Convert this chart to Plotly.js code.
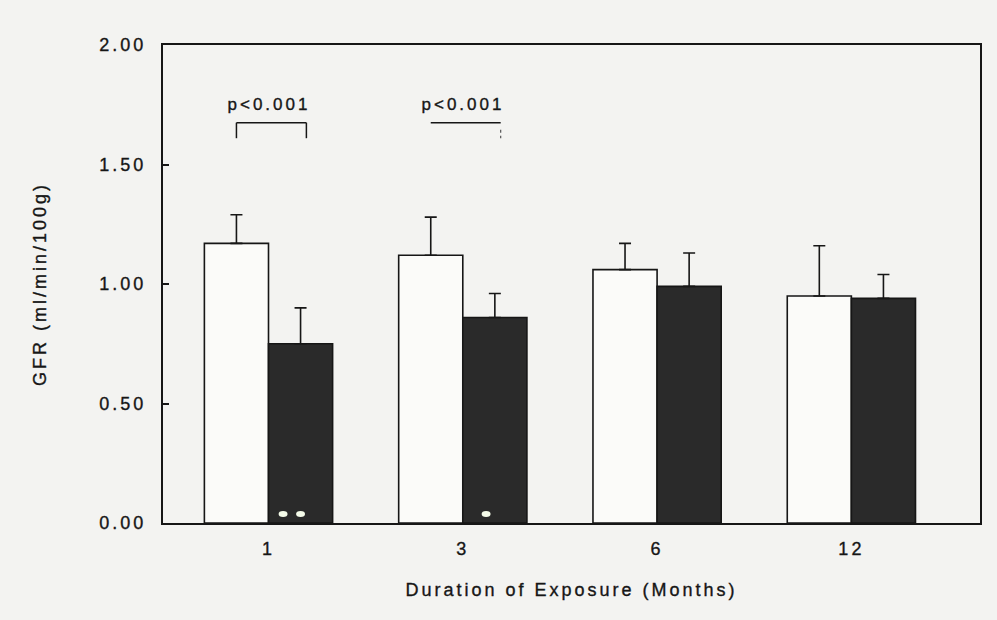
<!DOCTYPE html>
<html>
<head>
<meta charset="utf-8">
<script src="https://cdn.plot.ly/plotly-3.0.1.min.js"></script>
<style>
  html, body { margin: 0; padding: 0; background: #f3f3f1; }
  #chart { width: 997px; height: 620px; }
  /* wide tracking and slightly heavy strokes, like the printed figure */
  #chart .main-svg text { letter-spacing: 3px; stroke: #161616; stroke-width: 0.35px; }
</style>
</head>
<body>
<div id="chart"></div>
<script>
// GFR by duration of exposure: control (open) vs exposed (filled), mean + SE
const months = ['1', '3', '6', '12'];
const controlMean = [1.17, 1.12, 1.06, 0.95];
const controlSE = [0.12, 0.16, 0.11, 0.21];
const exposedMean = [0.75, 0.86, 0.99, 0.94];
const exposedSE = [0.15, 0.10, 0.14, 0.10];
// significance labels per group and number of significance dots on the exposed bar
const pLabels = ['p<0.001', 'p<0.001', '', ''];
const sigMarks = [2, 1, 0, 0];

const INK = '#161616';
const FONT = 'Liberation Sans, Arial, Helvetica, sans-serif';

const barHalf = 0.165; // half of one bar width in category units (bargap 0.34)

const traces = [
  {
    type: 'bar', name: 'Control', x: months, y: controlMean,
    marker: { color: '#fbfbf9', line: { color: INK, width: 1.6 } },
    error_y: { type: 'data', array: controlSE, arrayminus: controlSE.map(() => 0),
               symmetric: false, color: INK, thickness: 1.6, width: 6 }
  },
  {
    type: 'bar', name: 'Exposed', x: months, y: exposedMean,
    marker: { color: '#2a2a2a', line: { color: INK, width: 1.6 } },
    error_y: { type: 'data', array: exposedSE, arrayminus: exposedSE.map(() => 0),
               symmetric: false, color: INK, thickness: 1.6, width: 6 }
  }
];

const shapes = [];
const annotations = [];
pLabels.forEach((lab, i) => {
  if (!lab) return;
  const xa = i - barHalf, xb = i + barHalf + 0.03;
  const yTop = 1.675, yLeg = 1.61;
  annotations.push({
    x: i, y: 1.75, xref: 'x', yref: 'y', text: lab, showarrow: false,
    font: { family: FONT, size: 17, color: INK }
  });
  shapes.push({ type: 'line', xref: 'x', yref: 'y', x0: xa, x1: xb, y0: yTop, y1: yTop,
                line: { color: INK, width: 1.5 } });
  if (i === 0) {
    shapes.push({ type: 'line', xref: 'x', yref: 'y', x0: xa, x1: xa, y0: yTop, y1: yLeg,
                  line: { color: INK, width: 1.5 } });
    shapes.push({ type: 'line', xref: 'x', yref: 'y', x0: xb, x1: xb, y0: yTop, y1: yLeg,
                  line: { color: INK, width: 1.5 } });
  } else {
    // faint right leg of the second bracket
    shapes.push({ type: 'line', xref: 'x', yref: 'y', x0: xb, x1: xb, y0: yTop - 0.03, y1: yLeg,
                  line: { color: '#555', width: 1.2, dash: 'dot' } });
  }
});

// small light dots near the base of the exposed bars
sigMarks.forEach((n, i) => {
  const c = i + barHalf - 0.045;
  for (let k = 0; k < n; k++) {
    const cx = c + (k - (n - 1) / 2) * 0.09;
    shapes.push({ type: 'circle', xref: 'x', yref: 'y',
                  x0: cx - 0.023, x1: cx + 0.023, y0: 0.025, y1: 0.05,
                  fillcolor: '#f4fbe9', line: { width: 0 } });
  }
});

const layout = {
  width: 997, height: 620,
  margin: { l: 163, r: 17, t: 45, b: 97 },
  paper_bgcolor: '#f3f3f1', plot_bgcolor: '#f3f3f1',
  showlegend: false,
  barmode: 'group', bargap: 0.34, bargroupgap: 0,
  font: { family: FONT, size: 18, color: INK },
  xaxis: {
    type: 'category', range: [-0.543, 3.662],
    showline: true, mirror: true, linecolor: INK, linewidth: 2,
    ticks: '', showgrid: false, zeroline: false,
    ticklabelstandoff: 8,
    tickfont: { family: FONT, size: 18, color: INK },
    title: { text: 'Duration of Exposure (Months)', standoff: 26,
             font: { family: FONT, size: 18, color: INK } }
  },
  yaxis: {
    range: [0, 2], tickvals: [0, 0.5, 1, 1.5, 2],
    ticktext: ['0.00', '0.50', '1.00', '1.50', '2.00'],
    showline: true, mirror: true, linecolor: INK, linewidth: 2,
    ticks: 'inside', ticklen: 6, tickwidth: 2, tickcolor: INK,
    showgrid: false, zeroline: false,
    ticklabelstandoff: 11,
    tickfont: { family: FONT, size: 18, color: INK },
    title: { text: 'GFR (ml/min/100g)', standoff: 60,
             font: { family: FONT, size: 18, color: INK } }
  },
  shapes: shapes,
  annotations: annotations
};

Plotly.newPlot('chart', traces, layout, { displayModeBar: false, staticPlot: true });
</script>
</body>
</html>
